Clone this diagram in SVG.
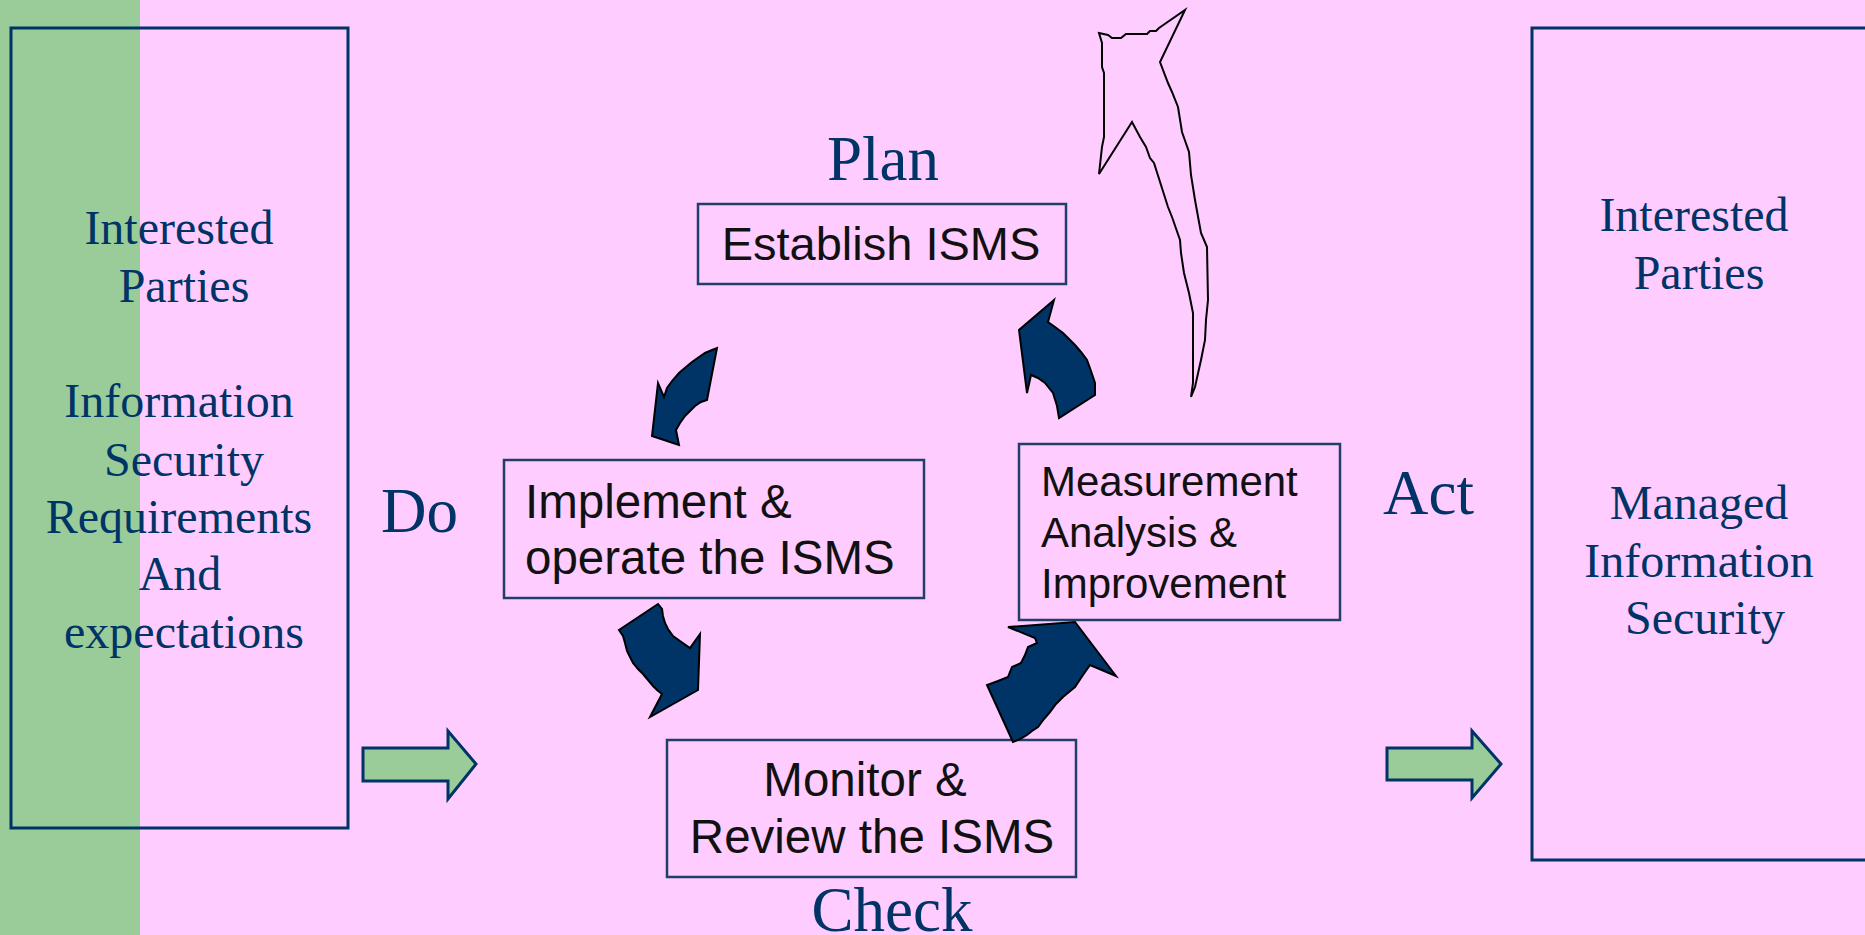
<svg xmlns="http://www.w3.org/2000/svg" width="1865" height="935" viewBox="0 0 1865 935">
  <style>
    .frame { fill: none; stroke: #003366; stroke-width: 3; }
    .box { fill: none; stroke: #1f3f6a; stroke-width: 2.5; }
    .serif { font-family: "Liberation Serif", "Times New Roman", serif; fill: #003366; }
    .side { font-size: 48px; text-anchor: middle; }
    .phase { font-size: 63px; }
    .label { font-family: "Liberation Sans", Arial, sans-serif; fill: #111111; }
    .flow { fill: #003366; stroke: #000000; stroke-width: 2; stroke-linejoin: miter; }
    .io { fill: #99cc99; stroke: #003366; stroke-width: 3; }
    .loop { fill: none; stroke: #000000; stroke-width: 2; stroke-linejoin: miter; }
  </style>

  <!-- background -->
  <rect x="0" y="0" width="1865" height="935" fill="#ffccff"/>
  <rect x="0" y="0" width="140" height="935" fill="#99cc99"/>

  <!-- inputs -->
  <g id="inputs">
    <rect class="frame" x="11" y="28" width="337" height="800"/>
    <text class="serif side" x="179" y="244">Interested</text>
    <text class="serif side" x="184" y="302">Parties</text>
    <text class="serif side" x="179" y="417">Information</text>
    <text class="serif side" x="184" y="476">Security</text>
    <text class="serif side" x="179" y="533">Requirements</text>
    <text class="serif side" x="180" y="590">And</text>
    <text class="serif side" x="184" y="648">expectations</text>
  </g>

  <!-- outputs -->
  <g id="outputs">
    <rect class="frame" x="1532" y="28" width="345" height="832"/>
    <text class="serif side" x="1694" y="231">Interested</text>
    <text class="serif side" x="1699" y="289">Parties</text>
    <text class="serif side" x="1699" y="519">Managed</text>
    <text class="serif side" x="1699" y="577">Information</text>
    <text class="serif side" x="1705" y="634">Security</text>
  </g>

  <!-- phase names -->
  <g id="phase-plan"><text class="serif phase" x="883" y="180" text-anchor="middle">Plan</text></g>
  <g id="phase-do"><text class="serif phase" x="381" y="532">Do</text></g>
  <g id="phase-check"><text class="serif phase" x="892" y="931" text-anchor="middle">Check</text></g>
  <g id="phase-act"><text class="serif phase" x="1383" y="514">Act</text></g>

  <!-- process steps -->
  <g id="establish">
    <rect class="box" x="698" y="204" width="368" height="80"/>
    <text class="label" x="881" y="260" font-size="47" text-anchor="middle">Establish ISMS</text>
  </g>
  <g id="implement">
    <rect class="box" x="504" y="460" width="420" height="138"/>
    <text class="label" x="525" y="518" font-size="47.5">Implement &amp;</text>
    <text class="label" x="525" y="574" font-size="47.5">operate the ISMS</text>
  </g>
  <g id="monitor">
    <rect class="box" x="667" y="740" width="409" height="137"/>
    <text class="label" x="865" y="796" font-size="47.5" text-anchor="middle">Monitor &amp;</text>
    <text class="label" x="872" y="853" font-size="47.5" text-anchor="middle">Review the ISMS</text>
  </g>
  <g id="measure">
    <rect class="box" x="1019" y="444" width="321" height="176"/>
    <text class="label" x="1041" y="496" font-size="42">Measurement</text>
    <text class="label" x="1041" y="547" font-size="42">Analysis &amp;</text>
    <text class="label" x="1041" y="598" font-size="42">Improvement</text>
  </g>

  <!-- connectors -->
  <g id="connectors">
    <!-- plan to do -->
    <polygon class="flow" points="717,348 707,400 701,402 695,406 690,411 685,416 680,423 676,430 679,445 652,436 658,383 664,397 667,388 672,381 679,373 686,367 692,362 699,357 705,353 712,350"/>
    <!-- do to check -->
    <polygon class="flow" points="658,604 619,630 623,636 625,643 627,651 630,657 633,663 638,669 643,674 648,680 653,686 657,690 662,694 650,717 698,690 700,634 690,648 680,641 673,636 668,629 665,623 663,616 662,609"/>
    <!-- check to act -->
    <polygon class="flow" points="1013,742 987,685 998,681 1008,677 1012,667 1021,663 1025,655 1028,647 1037,643 1035,638 1008,627 1075,622 1116,676 1090,665 1083,675 1075,687 1069,692 1063,697 1056,704 1050,712 1044,719 1038,727 1032,731 1027,735 1020,739"/>
    <!-- act to plan -->
    <polygon class="flow" points="1054,300 1019,330 1027,393 1031,375 1038,378 1045,383 1049,388 1053,393 1057,406 1059,418 1095,395 1095,383 1091,371 1087,360 1081,352 1075,345 1069,339 1063,333 1055,327 1048,322"/>
    <!-- continual improvement loop -->
    <polygon class="loop" fill="#ffccff" points="1099,33 1108,35 1112,38 1121,38 1126,34 1147,34 1150,31 1156,31 1159,28 1185,10 1160,62 1168,83 1172,92 1178,107 1182,132 1189,152 1191,175 1195,200 1201,233 1207,247 1208,300 1206,320 1205,340 1201,360 1195,387 1191,397 1193,383 1193,313 1189,293 1184,273 1181,253 1180,240 1172,217 1168,207 1154,163 1150,158 1146,147 1140,137 1132,122 1099,174 1102,147 1104,137 1104,73 1102,67 1102,43"/>
    <!-- input / output arrows -->
    <polygon class="io" points="363,748 448,748 448,731 476,764 448,799 448,781 363,781"/>
    <polygon class="io" points="1387,748 1472,748 1472,731 1501,764 1472,798 1472,780 1387,780"/>
  </g>
</svg>
